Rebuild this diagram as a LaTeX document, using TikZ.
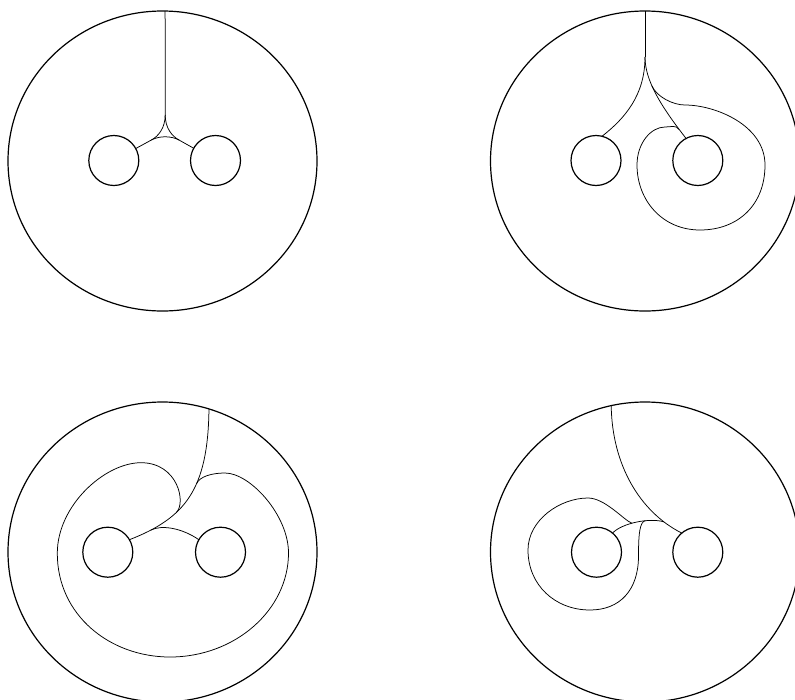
\documentclass[tikz,border=0pt]{standalone}
\usetikzlibrary{shapes.geometric}
\begin{document}
\begin{tikzpicture}[x=1pt, y=-1pt,
  disc/.style={draw, ellipse, minimum width=309pt, minimum height=300pt, inner sep=0pt, outer sep=0pt, line width=1.2pt},
  hole/.style={draw, circle, minimum size=50pt, inner sep=0pt, outer sep=0pt, line width=1.2pt},
  cut/.style={line width=0.75pt}
]
\useasboundingbox (0,0) rectangle (795,699);
\node[disc] (d1) at (162.5,161) {};
\node[disc] (d2) at (645,161) {};
\node[disc] (d3) at (162.5,552) {};
\node[disc] (d4) at (645,552) {};
\node[hole] (a1) at (113.8,160.5) {};
\node[hole] (b1) at (215.5,160.5) {};
\node[hole] (a2) at (596,160.5) {};
\node[hole] (b2) at (697.8,160.5) {};
\node[hole] (a3) at (107.8,552.2) {};
\node[hole] (b3) at (220.5,552.2) {};
\node[hole] (a4) at (596.5,552.2) {};
\node[hole] (b4) at (697.8,552.2) {};

\coordinate (k1) at (165.2,115);
\coordinate (l1) at (151.4,140);
\coordinate (r1) at (179,140);
\draw[cut] (d1.89) -- (k1);
\draw[cut] (k1) .. controls +(0,13) and +(7,-3.8) .. (l1);
\draw[cut] (k1) .. controls +(0,13) and +(-7,-3.8) .. (r1);
\draw[cut] (l1) .. controls +(8,-4.3) and +(-8,-4.3) .. (r1);
\draw[cut] (l1) -- (a1);
\draw[cut] (r1) -- (b1);

\coordinate (f2) at (645,57);
\draw[cut] (d2.90) -- (f2);
\draw[cut] (f2) .. controls +(0,38) and +(23,-18) .. (a2.76);
\draw[cut] (f2) .. controls +(0,23) and +(-26.1,-33.4) .. (b2.118) coordinate[pos=0.4] (s2) coordinate[pos=0.91] (e2);
\draw[cut] (s2) .. controls +(5,11) and +(-12,0) .. (685,105) .. controls +(30,0) and +(0,-40) .. (765,165)
  .. controls +(0,40) and +(38,0) .. (700,230) .. controls +(-38,0) and +(0,35) .. (637,165)
  .. controls +(0,-22) and +(-14,0) .. (665,127) .. controls +(7,0) and +(-4,-5) .. (e2);

\draw[cut] (d3.72) .. controls +(-1,81) and +(55.5,-21.7) .. (a3.30) coordinate[pos=0.4] (j2) coordinate[pos=0.65] (j1) coordinate[pos=0.86] (j3);
\draw[cut] (j1) .. controls +(10.2,-9.6) and +(37,0) .. (141,462.7) .. controls +(-36,0) and +(0,-48) .. (57.3,553.3)
  .. controls +(0,62) and +(-60,0) .. (170,657) .. controls +(65,0) and +(0,57) .. (288.5,553)
  .. controls +(0,-38) and +(25,0) .. (225,473) .. controls +(-13,0) and +(3.2,-7.3) .. (j2);
\draw[cut] (j3) .. controls +(10.7,-5.5) and +(-16.85,-11.7) .. (b3.150);

\draw[cut] (d4.103) .. controls +(0.8,59.3) and +(-41.7,-21) .. (b4.130) coordinate[pos=0.85] (m4);
\draw[cut] (a4.50) .. controls +(9.4,-10) and +(-13.9,-4.4) .. (m4) coordinate[pos=0.42] (l4) coordinate[pos=0.65] (r4);
\draw[cut] (l4) .. controls +(-8,-3) and +(17,0) .. (588,498) .. controls +(-28,0) and +(0,-30) .. (528,550)
  .. controls +(0,35) and +(-35,0) .. (590,610) .. controls +(30,0) and +(0,34) .. (638.5,556)
  .. controls +(0,-21) and +(-6,0.6) .. (r4);
\end{tikzpicture}
\end{document}
